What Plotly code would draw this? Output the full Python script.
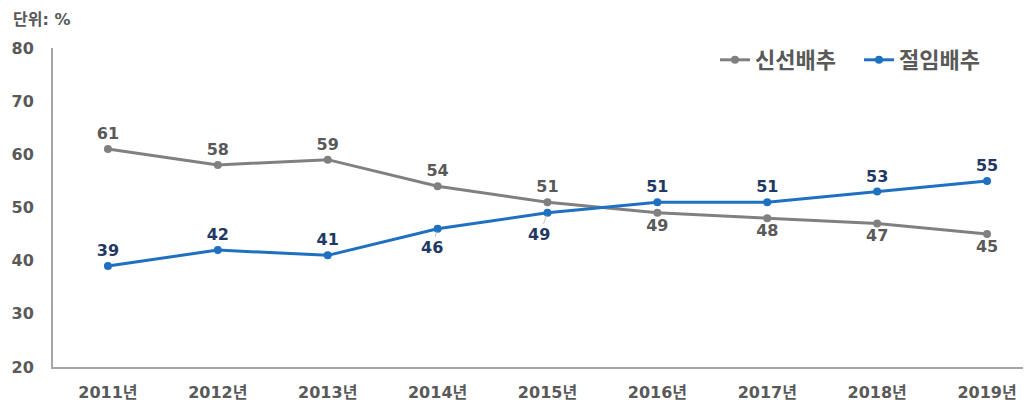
import plotly.graph_objects as go

years = ["2011년", "2012년", "2013년", "2014년", "2015년", "2016년", "2017년", "2018년", "2019년"]
fresh = [61, 58, 59, 54, 51, 49, 48, 47, 45]
salted = [39, 42, 41, 46, 49, 51, 51, 53, 55]
y_ticks = [20, 30, 40, 50, 60, 70, 80]

FONT = "DejaVu Sans, Noto Sans CJK KR"
GRAY = "#808080"
BLUE = "#1F70C1"
TXT = "#595959"
NAVY = "#1F3864"

fresh_pos = ["top center"] * 5 + ["bottom center"] * 4
salted_pos = ["top center"] * 9
# labels of 절임배추 moved off the line with a leader (index -> pixel offset)
salted_moved = {3: (-6, 19), 4: (-8, 22)}

fig = go.Figure()
fig.add_trace(go.Scatter(
    x=years, y=fresh, name="신선배추", mode="lines+markers+text",
    line=dict(color=GRAY, width=3), marker=dict(size=8, color=GRAY),
    text=[str(v) for v in fresh], textposition=fresh_pos,
    textfont=dict(family=FONT, size=16, color=TXT, weight="bold"),
    cliponaxis=False,
))
fig.add_trace(go.Scatter(
    x=years, y=salted, name="절임배추", mode="lines+markers+text",
    line=dict(color=BLUE, width=3), marker=dict(size=8, color=BLUE),
    text=["" if i in salted_moved else str(v) for i, v in enumerate(salted)],
    textposition=salted_pos,
    textfont=dict(family=FONT, size=16, color=NAVY, weight="bold"),
    cliponaxis=False,
))

# page body has an 8px margin; paper is sized to fit the window
OFF = 8
W, H = 1031 - OFF, 402 - OFF
L, R, T, B = 53 - OFF, 0, 48 - OFF, 35
pw, ph = W - L - R, H - T - B

annotations = [dict(text="<b>단위: %</b>", xref="paper", yref="paper",
                    x=(11 - OFF - L) / pw, y=1 + (T - (20 - OFF)) / ph,
                    xanchor="left", yanchor="middle", showarrow=False,
                    font=dict(family=FONT, size=16, color=TXT))]
for i, (dx, dy) in salted_moved.items():
    annotations.append(dict(
        x=years[i], y=salted[i], xref="x", yref="y",
        text="<b>%d</b>" % salted[i], showarrow=True, arrowhead=0,
        arrowwidth=1, arrowcolor="#BFBFBF", ax=dx, ay=dy, standoff=3,
        font=dict(family=FONT, size=16, color=NAVY),
    ))

fig.update_layout(
    width=W, height=H,
    margin=dict(l=L, r=R, t=T, b=B, autoexpand=False),
    paper_bgcolor="white", plot_bgcolor="white",
    font=dict(family=FONT, size=16, color=TXT),
    showlegend=True,
    legend=dict(orientation="h", x=(715 - OFF - L) / pw, xanchor="left",
                y=1 - (60 - OFF - T) / ph, yanchor="middle",
                entrywidth=99,
                font=dict(family="Noto Sans CJK KR", size=22, color=TXT, weight="bold"),
                bgcolor="rgba(0,0,0,0)", tracegroupgap=0),
    annotations=annotations,
)

fig.update_xaxes(
    type="category", range=[-0.5, 8.4], automargin=False,
    showline=True, linecolor="#A6A6A6", linewidth=2,
    showgrid=False, ticks="", zeroline=False, ticklabelstandoff=10,
    tickfont=dict(family=FONT, size=16, color=TXT, weight="bold"),
)
fig.update_yaxes(
    range=[20, 80], tickvals=y_ticks, automargin=False,
    showline=True, linecolor="#A6A6A6", linewidth=2,
    showgrid=False, ticks="", zeroline=False, ticklabelstandoff=14,
    tickfont=dict(family=FONT, size=16, color=TXT, weight="bold"),
)

fig.write_html("out.html")
